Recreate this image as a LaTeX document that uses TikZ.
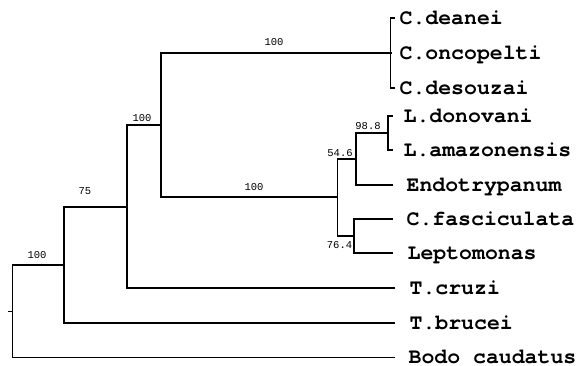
\documentclass[tikz,border=0pt]{standalone}
\usepackage{fontspec}
\setmonofont{Liberation Mono}
\newfontfamily\leaffont{texgyrecursor-bold.otf}
\begin{document}
\begin{tikzpicture}[x=1pt,y=-1pt,
  branch/.style={line width=1.8pt,line join=miter},
  leaf/.style={anchor=west,font=\leaffont\fontsize{21.5}{24}\selectfont,
    text height=12.2pt,text depth=0pt,inner ysep=0pt,inner xsep=0pt},
  boot/.style={font=\ttfamily\fontsize{10.5}{12}\selectfont,inner sep=0pt}]
\useasboundingbox (0,0) rectangle (581,366);
% internal nodes
\coordinate (root) at (12.5,311.5);
\coordinate (stub) at (8,311.5);
\coordinate (nB) at (64,265);
\coordinate (nC) at (127,207);
\coordinate (nD) at (161,125);
\coordinate (nCr) at (390.5,53);
\coordinate (nE) at (337.5,197);
\coordinate (nF) at (356,159);
\coordinate (nG) at (388,133);
\coordinate (nH) at (354,236);
% leaves
\node[leaf,label={[leaf,anchor=west,xshift=3pt]right:C.deanei}] (cdea) at (395,18) {};
\node[leaf,label={[leaf,anchor=west,xshift=7pt]right:C.oncopelti}] (conc) at (391,53) {};
\node[leaf,label={[leaf,anchor=west,xshift=3pt]right:C.desouzai}] (cdes) at (395,88) {};
\node[leaf,label={[leaf,anchor=west,xshift=9pt]right:L.donovani}] (ldon) at (393,116) {};
\node[leaf,label={[leaf,anchor=west,xshift=9pt]right:L.amazonensis}] (lama) at (393,150) {};
\node[leaf,label={[leaf,anchor=west,xshift=12pt]right:Endotrypanum}] (endo) at (393,185) {};
\node[leaf,label={[leaf,anchor=west,xshift=12pt]right:C.fasciculata}] (cfas) at (393,219) {};
\node[leaf,label={[leaf,anchor=west,xshift=13pt]right:Leptomonas}] (lept) at (393,253) {};
\node[leaf,label={[leaf,anchor=west,xshift=13pt]right:T.cruzi}] (cruz) at (395,288) {};
\node[leaf,label={[leaf,anchor=west,xshift=13pt]right:T.brucei}] (bruc) at (395,323) {};
\node[leaf,label={[leaf,anchor=west,xshift=12pt]right:Bodo caudatus}] (bodo) at (395,357.5) {};
% branches
\draw[branch] (stub) -- (root);
\draw[branch] (nB) -| (root);
\draw[branch] (bodo.west) -| (root);
\draw[branch] (nC) -| (nB);
\draw[branch] (bruc.west) -| (nB);
\draw[branch] (nD) -| (nC);
\draw[branch] (cruz.west) -| (nC);
\draw[branch] (nCr) -| (nD);
\draw[branch] (nE) -| (nD);
\draw[branch] (cdea.west) -| (nCr);
\draw[branch] (conc.west) -| (nCr);
\draw[branch] (cdes.west) -| (nCr);
\draw[branch] (nF) -| (nE);
\draw[branch] (nH) -| (nE);
\draw[branch] (nG) -| (nF);
\draw[branch] (endo.west) -| (nF);
\draw[branch] (ldon.west) -| (nG);
\draw[branch] (lama.west) -| (nG);
\draw[branch] (cfas.west) -| (nH);
\draw[branch] (lept.west) -| (nH);
% bootstrap values
\node[boot] (b1) at (37,255.5) {100};
\node[boot] (b2) at (85,191) {75};
\node[boot] (b3) at (142,118) {100};
\node[boot] (b4) at (274,42) {100};
\node[boot] (b5) at (254,187) {100};
\node[boot] (b6) at (368,126.5) {98.8};
\node[boot] (b7) at (340,153.5) {54.6};
\node[boot] (b8) at (339.5,245) {76.4};
\end{tikzpicture}
\end{document}
